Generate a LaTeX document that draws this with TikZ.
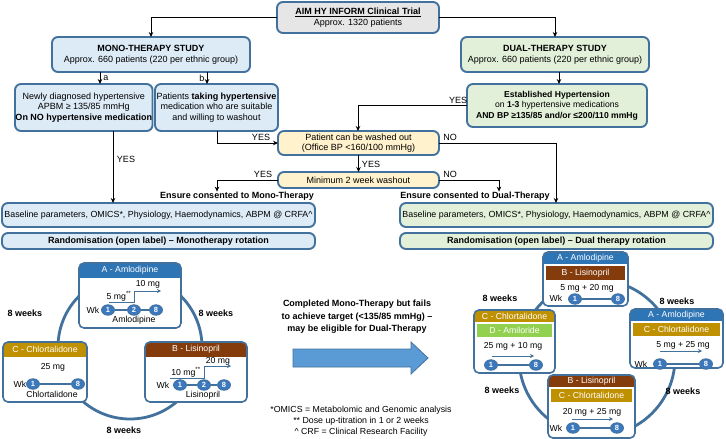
\documentclass[tikz,border=0pt]{standalone}
\usepackage{fontspec}
\setmainfont{Liberation Sans}
\usetikzlibrary{arrows.meta,shapes.geometric,calc}
\definecolor{bord}{HTML}{41719C}
\definecolor{monof}{HTML}{DDEBF7}
\definecolor{dualf}{HTML}{E2F0D9}
\definecolor{yelf}{HTML}{FFF2CC}
\definecolor{grayf}{HTML}{E7E6E6}
\definecolor{cA}{HTML}{2E75B6}
\definecolor{cB}{HTML}{843C0C}
\definecolor{cC}{HTML}{BF9000}
\definecolor{cD}{HTML}{92D050}
\definecolor{numblue}{HTML}{3B78BD}
\definecolor{bigarr}{HTML}{5B9BD5}
\newcommand\mkpanel[5]{\node[panelbg, minimum width=#4pt, minimum height=#5pt] (#1) at (#2,#3) {};}
\newcommand\topband[4]{\begin{scope}\clip[rounded corners=5pt] (#1.north west) rectangle (#1.south east);\fill[#4] ($(#1.north west)+(0,#2)$) rectangle ($(#1.north east)+(0,#3)$);\end{scope}}
\newcommand\inband[4]{\fill[#4] ($(#1.north west)+(3,#2)$) rectangle ($(#1.north east)+(-3,#3)$);}
\newcommand\pborder[1]{\draw[bord, line width=1.6pt, rounded corners=5pt] (#1.north west) rectangle (#1.south east);}
\begin{document}
\begin{tikzpicture}[x=1pt,y=-1pt,
  box/.style={draw=bord, line width=1.9pt, rounded corners=6pt, align=center, inner sep=0.5pt, outer sep=0pt, anchor=north west, font=\fontsize{9}{10.6}\selectfont},
  arr/.style={-{Stealth[length=5pt,width=4.5pt]}, line width=1pt},
  lbl/.style={font=\fontsize{9}{10}\selectfont, inner sep=0pt},
  bl/.style={font=\bfseries\fontsize{9}{10}\selectfont, inner sep=0pt},
  panelbg/.style={fill=white, anchor=north west, inner sep=0pt, outer sep=0pt, rounded corners=5pt},
  hdr/.style={text=white, font=\fontsize{8.7}{10}\selectfont, inner sep=0pt},
  ptxt/.style={font=\fontsize{8.7}{10}\selectfont, inner sep=0pt},
  numc/.style={ellipse, fill=numblue, draw=bord, line width=0.8pt, text=white, font=\bfseries\fontsize{7.5}{8}\selectfont, minimum width=13pt, minimum height=10.5pt, inner sep=0pt},
  tline/.style={draw=bord, line width=1.8pt},
  parr/.style={draw=bord, line width=1pt, -{Stealth[length=4pt,width=4pt]}},
  ring/.style={draw=bord, line width=2.8pt},
]
\useasboundingbox (0,0) rectangle (726,439);
\fill[white] (0,0) rectangle (726,439);

% ---------- upper flow ----------
\node[box, fill=grayf, minimum width=162pt, minimum height=31pt] (top) at (277,2) {\textbf{\underline{AIM HY INFORM Clinical Trial}}\\Approx. 1320 patients};
\node[box, fill=monof, minimum width=198pt, minimum height=35pt] (mono) at (52,37) {\textbf{MONO-THERAPY STUDY}\\Approx. 660 patients (220 per ethnic group)};
\node[box, fill=dualf, minimum width=188pt, minimum height=35pt] (dual) at (461,37) {\textbf{DUAL-THERAPY STUDY}\\Approx. 660 patients (220 per ethnic group)};
\node[box, fill=monof, minimum width=137pt, minimum height=47pt] (boxa) at (15,84) {Newly diagnosed hypertensive\\APBM ≥ 135/85 mmHg\\\textbf{On NO hypertensive medication}};
\node[box, fill=monof, minimum width=123pt, minimum height=47pt] (boxb) at (155,84) {Patients \textbf{taking hypertensive}\\medication who are suitable\\and willing to washout};
\node[box, fill=dualf, minimum width=180pt, minimum height=43pt, font=\fontsize{8.6}{10.4}\selectfont] (est) at (467,84) {\textbf{Established Hypertension}\\on \textbf{1-3} hypertensive medications\\\textbf{AND BP ≥135/85 and/or ≤200/110 mmHg}};
\node[box, fill=yelf, minimum width=161pt, minimum height=24pt] (pat) at (278,131) {Patient can be washed out\\(Office BP <160/100 mmHg)};
\node[box, fill=yelf, minimum width=161pt, minimum height=16pt] (minw) at (278,172) {Minimum 2 week washout};
\node[box, fill=monof, minimum width=313pt, minimum height=24pt, font=\fontsize{8.85}{10}\selectfont] (mbase) at (2,203) {Baseline parameters, OMICS*, Physiology, Haemodynamics, ABPM @ CRFA\^{}};
\node[box, fill=monof, minimum width=313pt, minimum height=16pt] (mrand) at (2,233) {\textbf{Randomisation (open label) – Monotherapy rotation}};
\node[box, fill=dualf, minimum width=313pt, minimum height=24pt, font=\fontsize{8.85}{10}\selectfont] (dbase) at (400,203) {Baseline parameters, OMICS*, Physiology, Haemodynamics, ABPM @ CRFA\^{}};
\node[box, fill=dualf, minimum width=313pt, minimum height=16pt] (drand) at (400,233) {\textbf{Randomisation (open label) – Dual therapy rotation}};

\node[bl] (cmono) at (237,196) {Ensure consented to Mono-Therapy};
\node[bl] (cdual) at (475,196) {Ensure consented to Dual-Therapy};

\coordinate (xa) at (100,0);
\coordinate (xb) at (207,0);
\coordinate (xay) at (113,0);
\coordinate (xby) at (217,0);
\coordinate (xest) at (358,0);
\coordinate (xno) at (556,0);
\coordinate (xmn) at (499,0);
\coordinate (xde) at (559,0);

\draw[arr] (top.west) -| (mono.north);
\draw[arr] (top.east) -| (dual.north);
\draw[arr] (mono.south -| xa) -- (boxa.north -| xa);
\node[lbl] (la) at (106,78) {a};
\draw[arr] (mono.south -| xb) -- (boxb.north -| xb);
\node[lbl] (lb) at (202,78) {b};
\draw[arr] (dual.south -| xde) -- (est.north -| xde);
\draw[arr] (boxa.south -| xay) -- (mbase.north -| xay);
\node[lbl] (ly1) at (126,159) {YES};
\draw[arr] (boxb.south -| xby) |- (pat.west);
\node[lbl] (ly2) at (261,137) {YES};
\draw[arr] (est.west) -| (pat.north -| xest);
\node[lbl] (ly3) at (458,100) {YES};
\draw[arr] (pat.east) -| (dbase.north -| xno);
\node[lbl] (ln1) at (450,137) {NO};
\draw[arr] (pat.south) -- (minw.north);
\node[lbl] (ly4) at (371,164) {YES};
\draw[arr] (minw.west) -| (cmono.north -| xby);
\node[lbl] (ly5) at (263,174) {YES};
\draw[arr] (minw.east) -| (cdual.north -| xmn);
\node[lbl] (ln2) at (450,174) {NO};

% ---------- mono rotation ----------
\draw[ring] (130,347) circle (72pt);

\mkpanel{pA}{79}{263}{102}{65}
\topband{pA}{0}{15}{cA}
\pborder{pA}
\node[hdr] (hA) at ($(pA.north)+(0,7.5)$) {A - Amlodipine};
\node[ptxt] (dA10) at (148,284) {10 mg};
\node[ptxt] (dA5) at (119,296) {5 mg\textsuperscript{**}};
\draw[parr] (109,302) -- (134,302) -- (134,291) -- (161,291);
\node[ptxt] (wkA) at (93,310) {Wk};
\node[numc] (a1) at (108,310) {1};
\node[numc] (a2) at (134,310) {2};
\node[numc] (a8) at (156,310) {8};
\draw[tline] (a1) -- (a2) (a2) -- (a8);
\node[ptxt] (lA) at (134,320) {Amlodipine};

\mkpanel{pB}{145}{342}{102}{60}
\topband{pB}{0}{15}{cB}
\pborder{pB}
\node[hdr] (hB) at ($(pB.north)+(0,7.5)$) {B - Lisinopril};
\node[ptxt] (dB20) at (218,361) {20 mg};
\node[ptxt] (dB10) at (186,372) {10 mg\textsuperscript{**}};
\draw[parr] (170,378) -- (204,378) -- (204,366) -- (231,366);
\node[ptxt] (wkB) at (163,385) {Wk};
\node[numc] (b1) at (180,385) {1};
\node[numc] (b2) at (204,385) {2};
\node[numc] (b8) at (224,385) {8};
\draw[tline] (b1) -- (b2) (b2) -- (b8);
\node[ptxt] (lB) at (203,395) {Lisinopril};

\mkpanel{pC}{3}{342}{84}{60}
\topband{pC}{0}{15}{cC}
\pborder{pC}
\node[hdr] (hC) at ($(pC.north)+(0,7.5)$) {C - Chlortalidone};
\node[ptxt] (dC25) at (53,367) {25 mg};
\node[ptxt] (wkC) at (20,384) {Wk};
\node[numc] (c1) at (33,384) {1};
\node[numc] (c8) at (78,384) {8};
\draw[tline] (c1) -- (c8);
\node[ptxt] (lC) at (52,394) {Chlortalidone};

\node[bl] (w1) at (25,313) {8 weeks};
\node[bl] (w2) at (216,313) {8 weeks};
\node[bl] (w3) at (124,430) {8 weeks};

% ---------- transition ----------
\node[bl, align=center, font=\bfseries\fontsize{9}{12.5}\selectfont] (trans) at (357,317) {Completed Mono-Therapy but fails\\to achieve target (<135/85 mmHg) –\\may be eligible for Dual-Therapy};
\draw[fill=bigarr, draw=bord, line width=0.8pt] (293,349) -- (411,349) -- (411,342) -- (428,358) -- (411,374) -- (411,367) -- (293,367) -- cycle;
\node[align=center, font=\fontsize{8.8}{11}\selectfont, inner sep=0pt] (foot) at (361,421) {*OMICS = Metabolomic and Genomic analysis\\** Dose up-titration in 1 or 2 weeks\\\^{} CRF = Clinical Research Facility};

% ---------- dual rotation ----------
\draw[ring] (597,358) circle (78pt);

\mkpanel{pAB}{543}{252}{85}{54}
\topband{pAB}{0}{12}{cA}
\inband{pAB}{14}{28}{cB}
\pborder{pAB}
\node[hdr] (hAB1) at ($(pAB.north)+(0,6)$) {A - Amlodipine};
\node[hdr] (hAB2) at ($(pAB.north)+(0,21)$) {B - Lisinopril};
\node[ptxt] (dAB) at (587,288) {5 mg + 20 mg};
\node[ptxt] (wkAB) at (556,298) {Wk};
\node[numc] (ab1) at (575,299) {1};
\node[numc] (ab8) at (618,299) {8};
\draw[tline] (ab1) -- (ab8);

\mkpanel{pAC}{630}{309}{93}{59}
\topband{pAC}{0}{12}{cA}
\inband{pAC}{14}{27}{cC}
\pborder{pAC}
\node[hdr] (hAC1) at ($(pAC.north)+(0,6)$) {A - Amlodipine};
\node[hdr] (hAC2) at ($(pAC.north)+(0,20.5)$) {C - Chlortalidone};
\node[ptxt] (dAC) at (683,345) {5 mg + 25 mg};
\draw[parr] (660,351) -- (702,351);
\node[ptxt] (wkAC) at (641,364) {Wk};
\node[numc] (ac1) at (660,364) {1};
\node[numc] (ac8) at (706,364) {8};
\draw[tline] (ac1) -- (ac8);

\mkpanel{pCD}{474}{310}{81}{63}
\topband{pCD}{0}{12}{cC}
\inband{pCD}{14}{27}{cD}
\pborder{pCD}
\node[hdr] (hCD1) at ($(pCD.north)+(0,6)$) {C - Chlortalidone};
\node[hdr] (hCD2) at ($(pCD.north)+(0,20.5)$) {D - Amiloride};
\node[ptxt] (dCD) at (513,346) {25 mg + 10 mg};
\draw[parr] (492,356) -- (534,356);
\node[numc] (cd1) at (491,365) {1};
\node[numc] (cd8) at (536,365) {8};
\draw[tline] (cd1) -- (cd8);

\mkpanel{pBC}{548}{375}{87}{63}
\topband{pBC}{0}{12}{cB}
\inband{pBC}{14}{27}{cC}
\pborder{pBC}
\node[hdr] (hBC1) at ($(pBC.north)+(0,6)$) {B - Lisinopril};
\node[hdr] (hBC2) at ($(pBC.north)+(0,20.5)$) {C - Chlortalidone};
\node[ptxt] (dBC) at (592,412) {20 mg + 25 mg};
\draw[parr] (572,419) -- (613,419);
\node[ptxt] (wkBC) at (556,428) {Wk};
\node[numc] (bc1) at (573,428) {1};
\node[numc] (bc8) at (617,428) {8};
\draw[tline] (bc1) -- (bc8);

\node[bl] (w4) at (500,298) {8 weeks};
\node[bl] (w5) at (677,301) {8 weeks};
\node[bl] (w6) at (502,390) {8 weeks};
\node[bl] (w7) at (683,391) {8 weeks};
\end{tikzpicture}
\end{document}
